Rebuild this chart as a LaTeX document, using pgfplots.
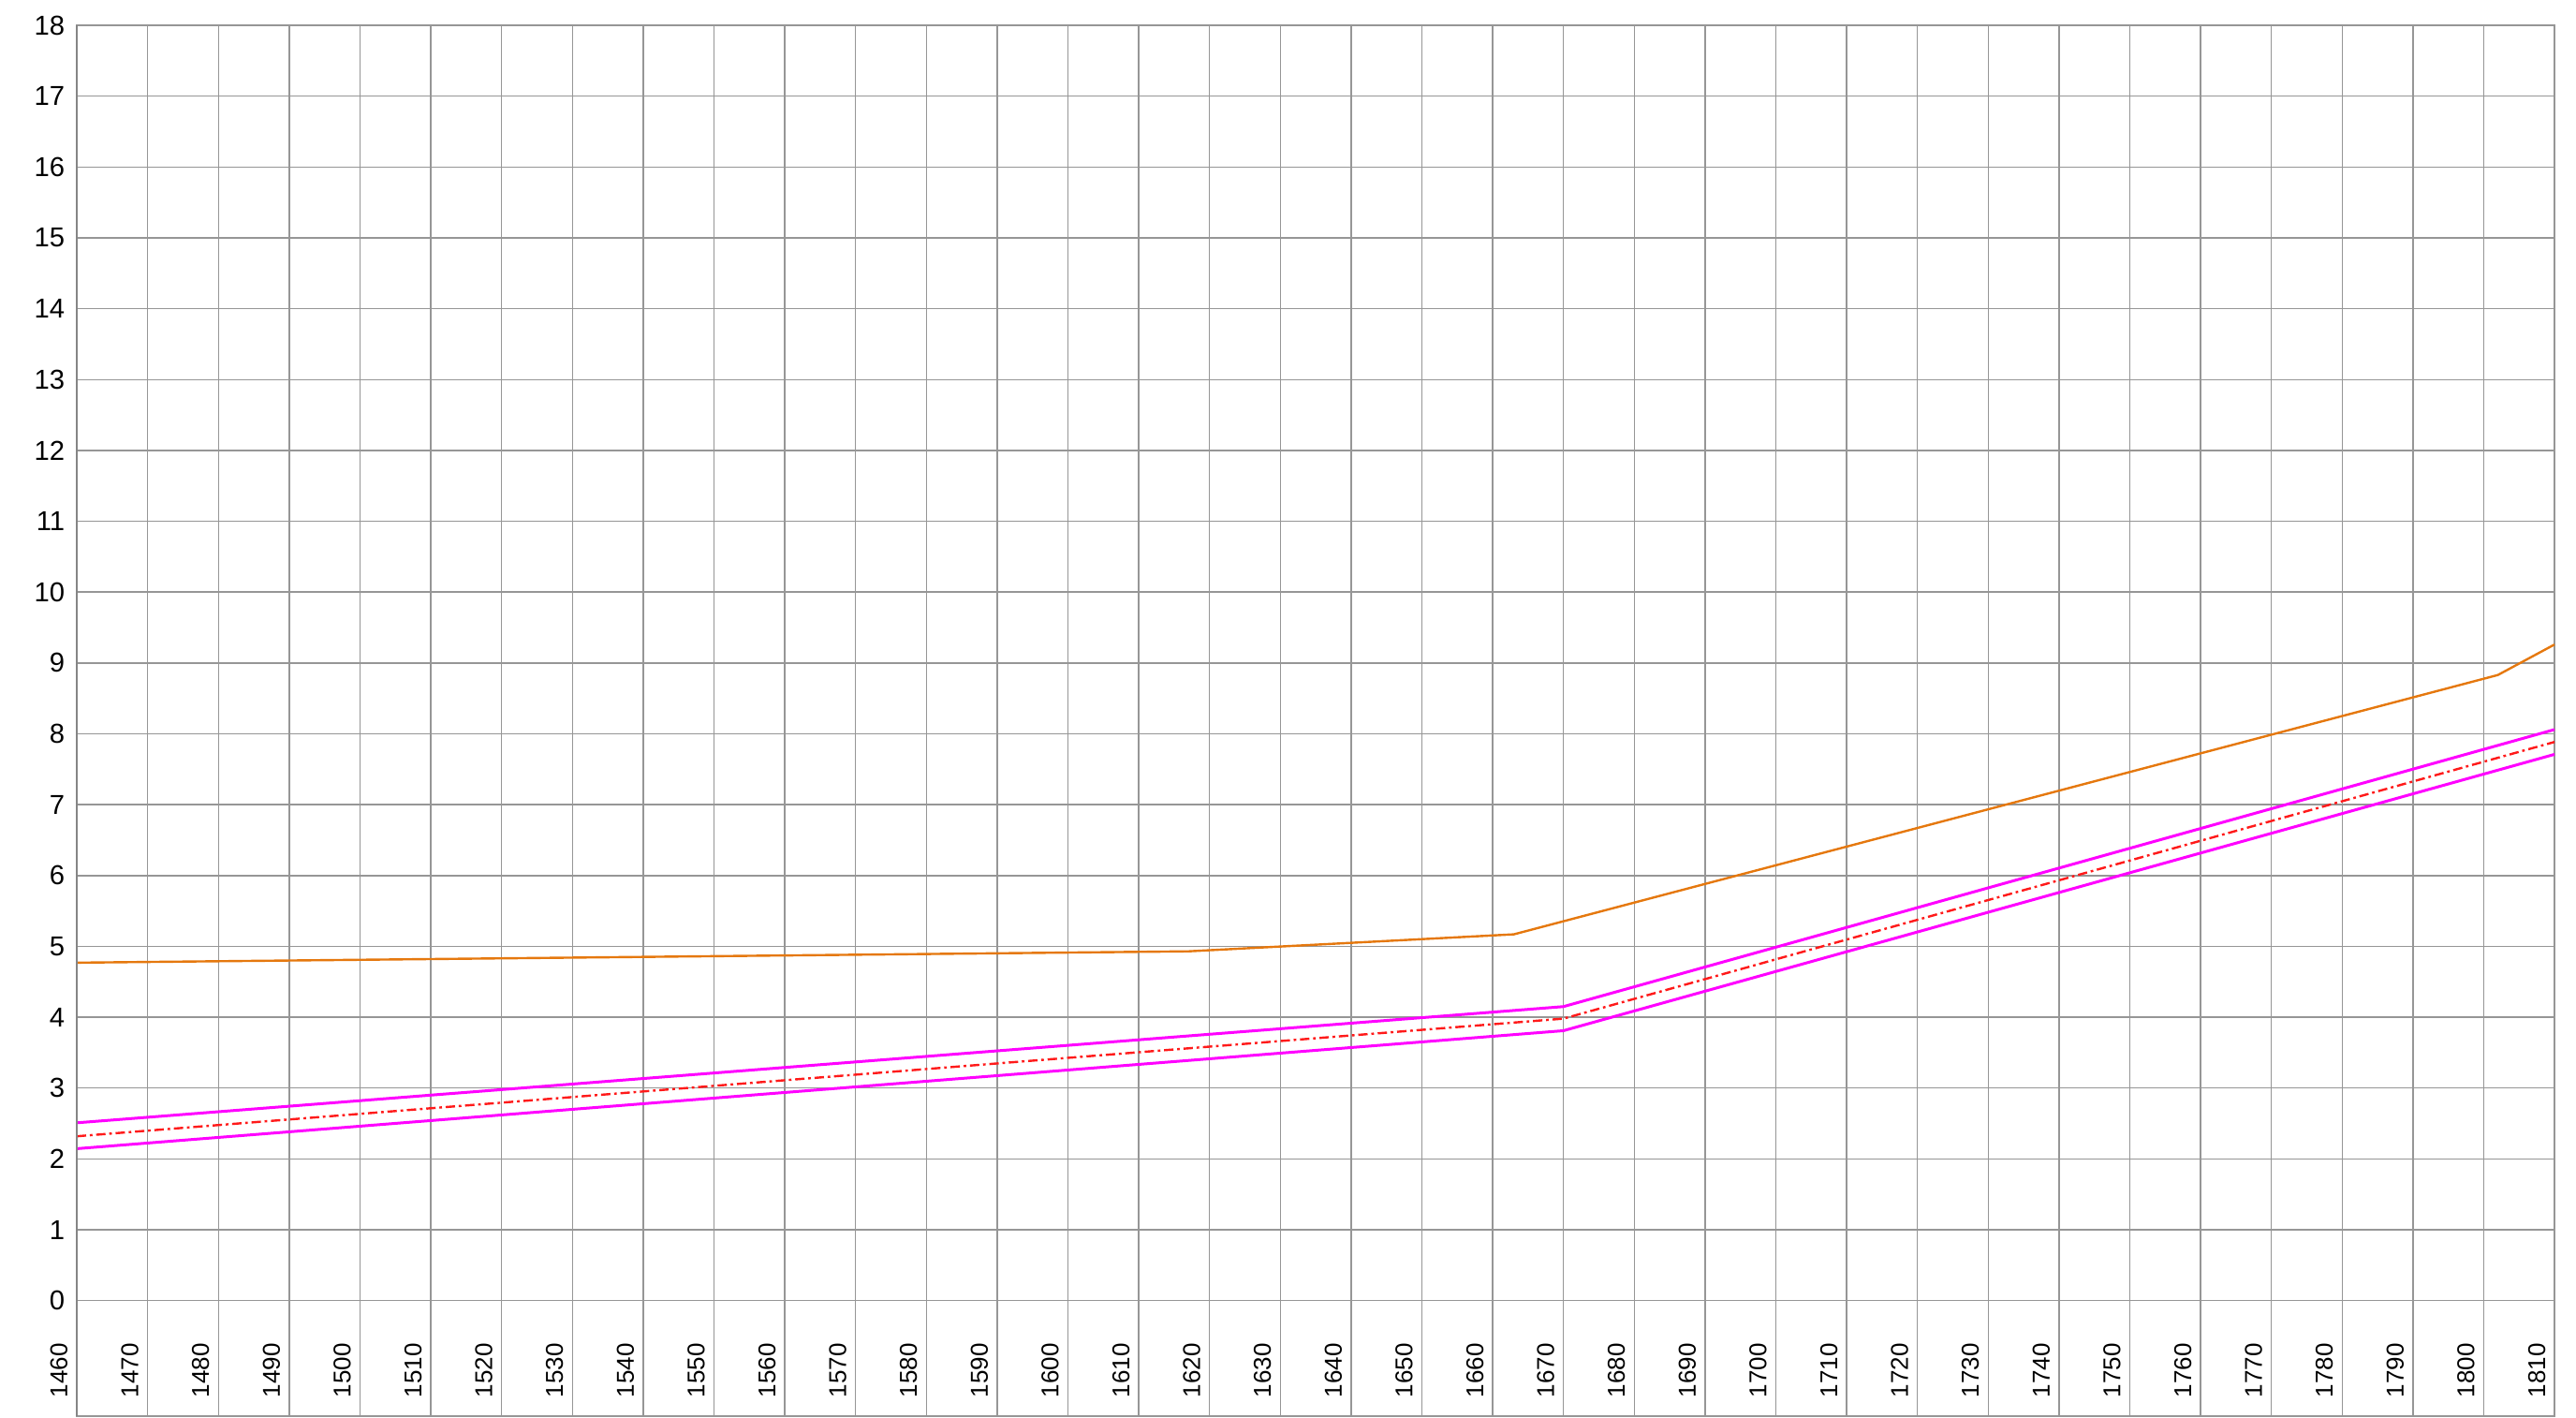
\documentclass[border=0pt]{standalone}
\usepackage{pgfplots}
\pgfplotsset{compat=1.18}
\usepackage{fontspec}
\setmainfont{Liberation Sans}
\definecolor{gridc}{HTML}{969696}
\definecolor{axc}{HTML}{858585}
\definecolor{orangec}{HTML}{E5780E}
\definecolor{magc}{HTML}{FF00FF}
\definecolor{redc}{HTML}{FF1A1A}
\begin{document}
\begin{tikzpicture}
\begin{axis}[
  name=ax,
  scale only axis,
  width=661.5pt, height=371.25pt,
  xmin=1460, xmax=1810,
  ymin=-1.63, ymax=18,
  xtick={1460,1470,...,1810},
  ytick={0,1,...,18},
  grid=major,
  major grid style={gridc, line width=0.35pt},
  major tick length=0pt,
  axis line style={gridc, line width=0.35pt},
  /pgf/number format/assume math mode=true,
  /pgf/number format/1000 sep={},
  xticklabel style={font=\fontsize{6.5}{7}\selectfont, xshift=-2.5pt, yshift=4.75pt, rotate=90, anchor=base west, inner sep=0pt},
  yticklabel style={font=\fontsize{7.3}{8}\selectfont, inner sep=0pt, xshift=-3pt},
  clip=false,
]
\addplot[orangec, line width=0.6pt] coordinates {
 (1460,4.77) (1617,4.93) (1663,5.17) (1802,8.83) (1810,9.26)
};
\addplot[magc, line width=0.75pt] coordinates {
 (1460,2.51) (1670,4.15) (1810,8.06)
};
\addplot[magc, line width=0.75pt] coordinates {
 (1460,2.145) (1670,3.81) (1810,7.71)
};
\addplot[redc, line width=0.6pt, dash pattern=on 2.5pt off 1pt on 0.7pt off 1pt] coordinates {
 (1460,2.32) (1670,3.98) (1810,7.885)
};
\end{axis}
\draw[axc, line width=0.5pt] (ax.south west) -- (ax.north west);
\path (ax.south west) ++(-20.5pt,-0.25pt);
\path (ax.north east) ++(5.75pt,6.75pt);
\end{tikzpicture}
\end{document}
